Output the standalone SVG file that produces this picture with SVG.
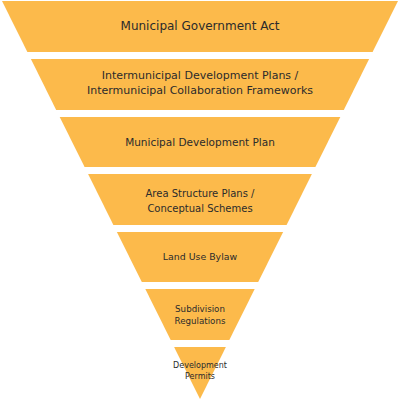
<svg xmlns="http://www.w3.org/2000/svg" width="400" height="400" viewBox="0 0 400 400">
<style>
.band{fill:#FCBA4B;stroke:none}
text{font-family:"DejaVu Sans",Verdana,sans-serif;fill:#2b2b2b;text-anchor:middle}
</style>
<rect width="400" height="400" fill="#fff"/>
<g id="n1"><polygon class="band" points="2,1 398,1 372.6,52 27.4,52"/><text x="200" y="30" font-size="12">Municipal Government Act</text></g>
<g id="n2"><polygon class="band" points="30.9,59 369.1,59 343.8,110 56.2,110"/><text x="200" y="79" font-size="11">Intermunicipal Development Plans /</text><text x="200" y="94" font-size="11">Intermunicipal Collaboration Frameworks</text></g>
<g id="n3"><polygon class="band" points="59.7,117 340.3,117 315.4,167 84.6,167"/><text x="200" y="146" font-size="10.5">Municipal Development Plan</text></g>
<g id="n4"><polygon class="band" points="88.1,174 311.9,174 286.6,225 113.4,225"/><text x="200" y="196.5" font-size="10">Area Structure Plans /</text><text x="200" y="211.5" font-size="10">Conceptual Schemes</text></g>
<g id="n5"><polygon class="band" points="116.9,232 283.1,232 258.2,282 141.8,282"/><text x="200" y="259.5" font-size="9.4">Land Use Bylaw</text></g>
<g id="n6"><polygon class="band" points="145.3,289 254.7,289 229.3,340 170.7,340"/><text x="200" y="311.5" font-size="8.7">Subdivision</text><text x="200" y="323.5" font-size="8.7">Regulations</text></g>
<g id="n7"><polygon class="band" points="174.1,347 225.9,347 200,399"/><text x="200" y="367.5" font-size="8">Development</text><text x="200" y="378.5" font-size="8">Permits</text></g>
<g id="connectors"></g>
</svg>
